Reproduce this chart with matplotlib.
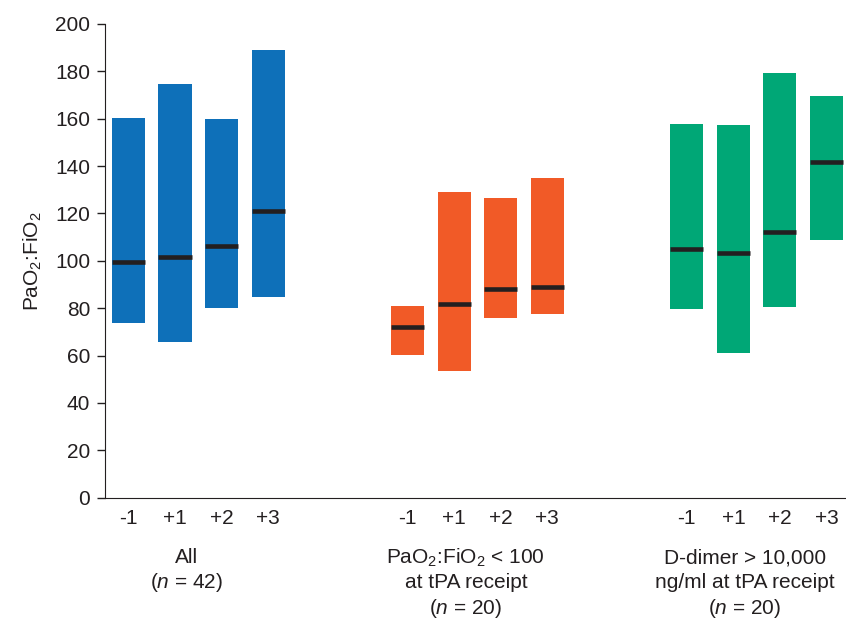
import matplotlib.pyplot as plt
import numpy as np

plt.rcParams['font.family'] = ['Liberation Sans', 'DejaVu Sans']
plt.rcParams['mathtext.fontset'] = 'custom'
plt.rcParams['mathtext.rm'] = 'Liberation Sans'
plt.rcParams['mathtext.it'] = 'Liberation Sans:italic'

# day relative to tPA
days = ["-1", "+1", "+2", "+3"]

# range (low/high) and median PaO2:FiO2 per day, per group
all_low = [73.6, 65.6, 80.0, 84.7]
all_high = [160.2, 174.5, 159.9, 189.0]
all_med = [99.4, 101.8, 106.1, 121.2]

pf_low = [60.4, 53.6, 76.0, 77.7]
pf_high = [80.9, 129.1, 126.5, 135.0]
pf_med = [72.1, 81.9, 88.0, 89.0]

dd_low = [79.8, 61.2, 80.6, 108.9]
dd_high = [157.8, 157.4, 179.3, 169.6]
dd_med = [105.0, 103.3, 112.2, 141.6]

group_labels = [
    ["All", "($\\it{n}$ = 42)"],
    ["PaO$_2$:FiO$_2$ < 100", "at tPA receipt", "($\\it{n}$ = 20)"],
    ["D-dimer > 10,000", "ng/ml at tPA receipt", "($\\it{n}$ = 20)"],
]

colors = ["#0e70b9", "#f15a27", "#00a776"]
txt = "#231f20"
fs = 15

fig = plt.figure(figsize=(8.46, 6.21), dpi=100)
ax = fig.add_axes([0.1238, 0.1986, 0.8762, 0.7628])

groups = [(all_low, all_high, all_med), (pf_low, pf_high, pf_med), (dd_low, dd_high, dd_med)]
width = 0.71
xt, xl = [], []
for g, (lo, hi, med) in enumerate(groups):
    x = np.arange(4) + g * 6
    lo = np.array(lo)
    hi = np.array(hi)
    ax.bar(x, hi - lo, bottom=lo, width=width, color=colors[g], zorder=2)
    ax.hlines(med, x - width / 2, x + width / 2, color=txt, lw=3.3, zorder=3)
    xt += list(x)
    xl += days
    # group label under the day ticks
    cx = x.mean() - 0.25
    for i, line in enumerate(group_labels[g]):
        ax.text(cx, -0.127 - i * 0.053, line, transform=ax.get_xaxis_transform(),
                ha="center", va="center", fontsize=fs, color=txt)

ax.set_xlim(-0.51, 15.42)
ax.set_ylim(0, 200)
ax.set_yticks(range(0, 201, 20))
ax.set_xticks(xt)
ax.set_xticklabels(xl)
ax.tick_params(axis="x", length=0, pad=8, labelsize=fs, colors=txt)
ax.tick_params(axis="y", length=5.5, width=1, pad=5, labelsize=fs, colors=txt)
ax.spines["top"].set_visible(False)
ax.spines["right"].set_visible(False)
ax.spines["left"].set_color(txt)
ax.spines["bottom"].set_color(txt)
ax.set_ylabel("PaO$_2$:FiO$_2$", fontsize=fs, color=txt, labelpad=8)

fig.savefig("out.png", dpi=100)
